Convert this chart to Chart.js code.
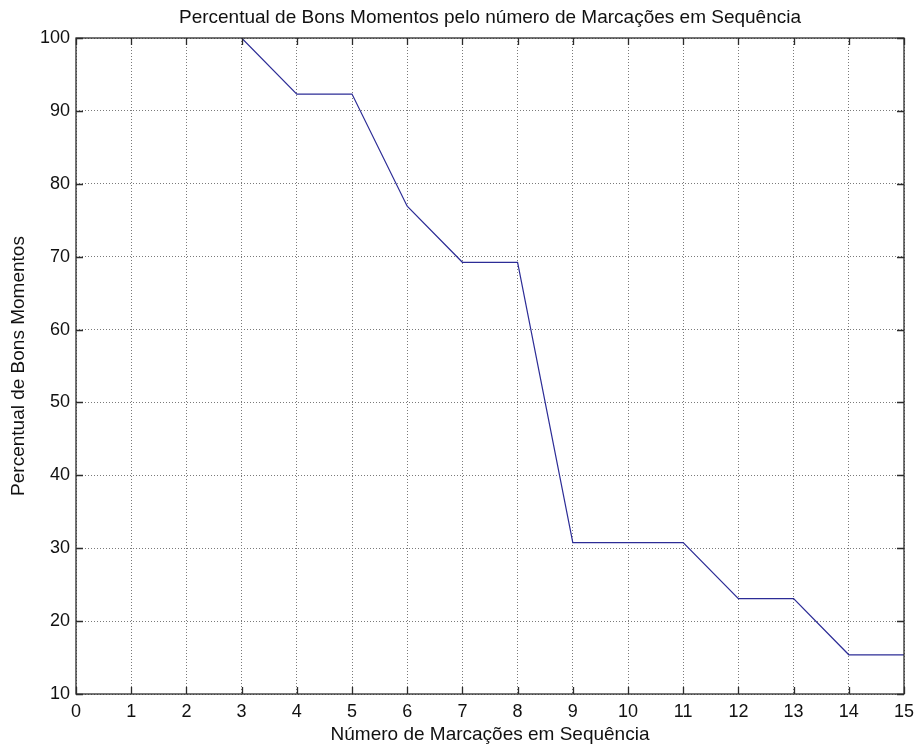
<!DOCTYPE html>
<html>
<head>
<meta charset="utf-8">
<title>Percentual de Bons Momentos</title>
<script src="https://cdn.jsdelivr.net/npm/chart.js@4/dist/chart.umd.min.js"></script>
<style>
  html, body { margin: 0; padding: 0; background: #fff; }
  #wrap { width: 916px; height: 753px; }
</style>
</head>
<body>
<div id="wrap"><canvas id="grafico"></canvas></div>
<script>
// Dados
const marcacoes = [3, 4, 5, 6, 7, 8, 9, 10, 11, 12, 13, 14, 15];
const percentual = [100, 92.31, 92.31, 76.92, 69.23, 69.23, 30.77, 30.77, 30.77, 23.08, 23.08, 15.38, 15.38];
const ticksX = [0, 1, 2, 3, 4, 5, 6, 7, 8, 9, 10, 11, 12, 13, 14, 15];
const ticksY = [10, 20, 30, 40, 50, 60, 70, 80, 90, 100];

const fonte = "'Liberation Sans', Arial, Helvetica, sans-serif";

// Moldura do eixo e marcas de escala voltadas para dentro (estilo MATLAB)
const molduraPlugin = {
    id: 'moldura',
    afterDraw(chart) {
        const { ctx, chartArea: a, scales } = chart;
        const tam = 7;
        ctx.save();
        ctx.strokeStyle = '#2b2b2b';
        ctx.lineWidth = 1.3;
        ctx.beginPath();
        ticksX.forEach(v => {
            const px = Math.round(scales.x.getPixelForValue(v)) + 0.5;
            ctx.moveTo(px, a.bottom); ctx.lineTo(px, a.bottom - tam);
            ctx.moveTo(px, a.top); ctx.lineTo(px, a.top + tam);
        });
        ticksY.forEach(v => {
            const py = Math.round(scales.y.getPixelForValue(v)) + 0.5;
            ctx.moveTo(a.left, py); ctx.lineTo(a.left + tam, py);
            ctx.moveTo(a.right, py); ctx.lineTo(a.right - tam, py);
        });
        ctx.stroke();
        ctx.strokeRect(a.left, a.top, a.right - a.left, a.bottom - a.top);
        ctx.restore();
    }
};

new Chart(document.getElementById('grafico'), {
    type: 'line',
    data: {
        datasets: [{
            data: marcacoes.map((x, i) => ({ x: x, y: percentual[i] })),
            borderColor: '#2c2c96',
            borderWidth: 1.2,
            pointRadius: 0,
            tension: 0,
            fill: false
        }]
    },
    options: {
        responsive: true,
        maintainAspectRatio: false,
        animation: false,
        layout: { padding: { left: 0, right: 12, top: 0, bottom: 0 } },
        plugins: {
            legend: { display: false },
            tooltip: { enabled: false },
            title: {
                display: true,
                fullSize: false,
                text: 'Percentual de Bons Momentos pelo número de Marcações em Sequência',
                color: '#111',
                font: { family: fonte, size: 19, weight: 'normal' },
                padding: { top: 6.5, bottom: 8.7 }
            }
        },
        scales: {
            x: {
                type: 'linear',
                min: 0,
                max: 15,
                afterBuildTicks: s => { s.ticks = ticksX.map(v => ({ value: v })); },
                afterFit: s => { s.height = 59; s.paddingLeft = 0; s.paddingRight = 0; },
                grid: { color: '#7a7a7a', lineWidth: 1, drawTicks: false },
                border: { display: false, dash: [1, 2] },
                ticks: { color: '#111', font: { family: fonte, size: 18 }, padding: 7, maxRotation: 0 },
                title: {
                    display: true,
                    text: 'Número de Marcações em Sequência',
                    color: '#111',
                    font: { family: fonte, size: 19 },
                    padding: { top: 0, bottom: 7 }
                }
            },
            y: {
                min: 10,
                max: 100,
                afterBuildTicks: s => { s.ticks = ticksY.map(v => ({ value: v })); },
                afterFit: s => { s.width = 76; s.paddingTop = 0; s.paddingBottom = 0; },
                grid: { color: '#7a7a7a', lineWidth: 1, drawTicks: false },
                border: { display: false, dash: [1, 2] },
                ticks: { color: '#111', font: { family: fonte, size: 18 }, padding: 6 },
                title: {
                    display: true,
                    text: 'Percentual de Bons Momentos',
                    color: '#111',
                    font: { family: fonte, size: 19 },
                    padding: { top: 7, bottom: 0 }
                }
            }
        }
    },
    plugins: [molduraPlugin]
});
</script>
</body>
</html>
